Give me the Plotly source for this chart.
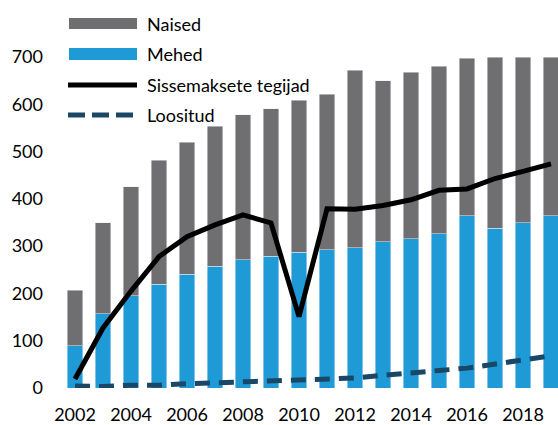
import plotly.graph_objects as go

years = list(range(2002, 2020))
naised_total = [207, 350, 426, 482, 520, 554, 578, 591, 609, 621, 672, 650, 668, 680, 697, 700, 700, 700]
mehed = [89, 157, 195, 219, 241, 258, 271, 279, 287, 292, 297, 309, 316, 326, 364, 338, 350, 364]
naised = [t - m for t, m in zip(naised_total, mehed)]
sissemaksete = [19, 127, 205, 278, 320, 345, 366, 349, 151, 379, 378, 386, 398, 418, 421, 443, 458, 474]
loositud = [4, 3, 6, 6, 9, 11, 15, 15, 17, 19, 21, 27, 31, 37, 42, 50, 59, 68]
tick_years = [2002, 2004, 2006, 2008, 2010, 2012, 2014, 2016, 2018]
y_ticks = [0, 100, 200, 300, 400, 500, 600, 700]

GRAY = "#6f6f71"
BLUE = "#1e9ad6"
DARK = "#1b4767"
FONT = "Lato"

W, H = 558, 425
L, R, T, B = 61, 0, 57, 37
pw, ph = W - L - R, H - T - B

def px(x):
    return (x - L) / pw

def py(y):
    return (H - B - y) / ph

fig = go.Figure()
fig.add_trace(go.Bar(x=years, y=mehed, name="Mehed", marker_color=BLUE, width=0.56, showlegend=False))
fig.add_trace(go.Bar(x=years, y=naised, name="Naised", marker_color=GRAY, width=0.56, showlegend=False))
fig.add_trace(go.Scatter(x=years, y=sissemaksete, name="Sissemaksete tegijad", mode="lines",
                         line=dict(color="black", width=5), showlegend=False))
fig.add_trace(go.Scatter(x=years, y=loositud, name="Loositud", mode="lines",
                         line=dict(color=DARK, width=5, dash="15px,9px"), showlegend=False))

shapes = [
    dict(type="rect", xref="paper", yref="paper", x0=px(69), x1=px(137), y0=py(29), y1=py(18),
         fillcolor=GRAY, line_width=0),
    dict(type="rect", xref="paper", yref="paper", x0=px(69), x1=px(137), y0=py(60), y1=py(48),
         fillcolor=BLUE, line_width=0),
    dict(type="line", xref="paper", yref="paper", x0=px(68), x1=px(137), y0=py(85), y1=py(85),
         line=dict(color="black", width=5)),
]
for a, b in [(68, 85), (92, 109), (116, 133)]:
    shapes.append(dict(type="line", xref="paper", yref="paper", x0=px(a), x1=px(b), y0=py(115), y1=py(115),
                       line=dict(color=DARK, width=5)))

labels = [("Naised", 24), ("Mehed", 54), ("Sissemaksete tegijad", 85), ("Loositud", 115)]
annotations = [dict(text=t, xref="paper", yref="paper", x=px(145), y=py(y), xanchor="left", yanchor="middle",
                    showarrow=False, font=dict(family=FONT, size=18, color="black")) for t, y in labels]

fig.update_layout(
    barmode="stack",
    width=W, height=H,
    margin=dict(l=L, r=R, t=T, b=B, pad=0),
    paper_bgcolor="white", plot_bgcolor="white",
    font=dict(family=FONT, size=18, color="black"),
    shapes=shapes,
    annotations=annotations,
    showlegend=False,
)
fig.update_xaxes(range=[2001.5, 2019.25], tickvals=tick_years, ticktext=[str(y) for y in tick_years],
                 showgrid=False, zeroline=False, showline=False, ticks="", ticklabelstandoff=14)
fig.update_yaxes(range=[0, 700], tickvals=y_ticks, showgrid=False, zeroline=False, showline=False,
                 ticks="", ticklabelstandoff=17)

fig.write_html("out.html", config={"displayModeBar": False},
               post_script="document.body.style.margin='0';document.body.style.overflow='hidden';")
